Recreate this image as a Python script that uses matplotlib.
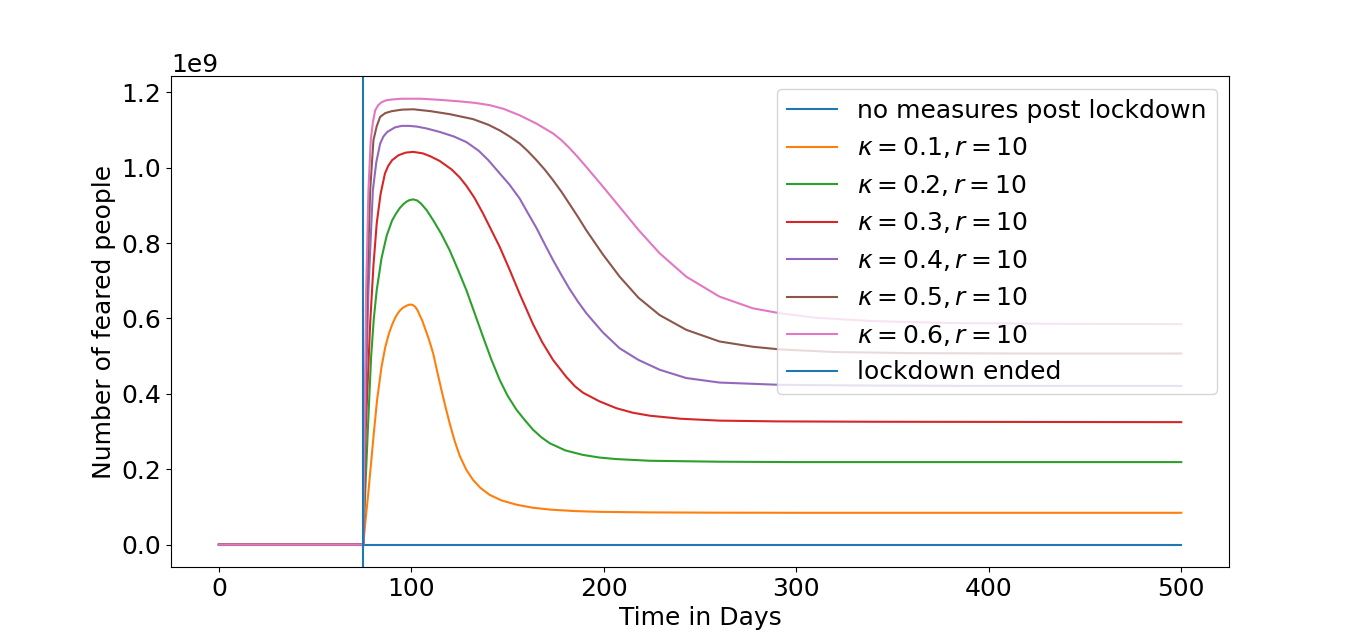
import matplotlib
matplotlib.use("Agg")
import matplotlib.pyplot as plt
import numpy as np

SCALE = 1e9  # values below are in units of 1e9 people
LOCKDOWN_END = 75

t_none = [0, 75, 500]
y_none = [0, 0, 0]

t_k1 = [0, 75, 76.3, 77.5, 78.9, 80.5, 82.2, 84.5, 86.5, 88.4, 90.2, 91.9, 93.7, 95.5, 97.5,
        99.2, 100.7, 102, 103.3, 104.4, 105.7, 107, 109.1, 111.3, 113.4, 115.6, 117.8, 119.9,
        122.5, 125.1, 128.5, 132, 136, 140.7, 147, 154.6, 163, 172, 185, 198, 224,
        260, 300, 500]
y_k1 = [0, 0, 0.07, 0.13, 0.207, 0.296, 0.384, 0.472, 0.525, 0.561, 0.586, 0.605, 0.619,
        0.628, 0.634, 0.637, 0.636, 0.631, 0.621, 0.608, 0.594, 0.575, 0.545, 0.508, 0.46,
        0.411, 0.364, 0.322, 0.275, 0.236, 0.199, 0.172, 0.150, 0.132, 0.117, 0.106, 0.098,
        0.093, 0.089, 0.087, 0.0855, 0.0848, 0.0845, 0.0845]

t_k2 = [0, 75, 76.2, 77.4, 79.1, 80.5, 82.0, 84.5, 87.2, 90, 92, 94, 96, 97.5, 99, 101, 103,
        105, 108, 111.3, 115.5, 119.9, 124, 128.6, 132.8, 137.2, 141.5, 145.9, 150, 154.6,
        159, 163.2, 167.5, 171.9, 180, 189.2, 197.8, 206.5, 224, 260, 300, 500]
y_k2 = [0, 0, 0.16, 0.305, 0.499, 0.60, 0.675, 0.76, 0.82, 0.86, 0.878, 0.893, 0.904, 0.910,
        0.914, 0.916, 0.913, 0.905, 0.887, 0.861, 0.825, 0.781, 0.732, 0.675, 0.615, 0.552,
        0.492, 0.437, 0.395, 0.358, 0.33, 0.305, 0.285, 0.269, 0.25, 0.238, 0.231, 0.227,
        0.2225, 0.22, 0.219, 0.219]

t_k3 = [0, 75, 76.3, 78.6, 80.3, 82.0, 84.0, 86.3, 88, 90, 93.3, 97, 101, 106, 110, 114.7,
        121, 125, 128.6, 132.8, 137.2, 141.5, 145.9, 151, 156.3, 163.2, 168, 173.6, 180.5,
        185, 189.2, 197.8, 206.5, 215, 224, 240, 260, 290, 340, 500]
y_k3 = [0, 0, 0.305, 0.587, 0.74, 0.852, 0.93, 0.985, 1.005, 1.02, 1.033, 1.040, 1.042,
        1.038, 1.030, 1.018, 0.995, 0.975, 0.952, 0.92, 0.879, 0.835, 0.79, 0.73, 0.665,
        0.585, 0.537, 0.49, 0.445, 0.42, 0.403, 0.38, 0.362, 0.35, 0.342, 0.334, 0.329,
        0.327, 0.326, 0.325]

t_k4 = [0, 75, 75.9, 77.7, 80.0, 81.8, 83.8, 85.5, 87.5, 91.5, 95, 99, 103, 108, 114.7, 122,
        128.6, 135, 140, 145.9, 151, 156.3, 160.5, 165, 169.3, 173.6, 178, 182, 186.5,
        190.9, 199.5, 208.2, 218, 229, 242.8, 260.1, 291.3, 340, 400, 500]
y_k4 = [0, 0, 0.305, 0.675, 0.940, 1.015, 1.064, 1.083, 1.095, 1.107, 1.111, 1.111, 1.109,
        1.104, 1.095, 1.083, 1.068, 1.045, 1.02, 0.985, 0.955, 0.918, 0.88, 0.84, 0.797,
        0.755, 0.715, 0.68, 0.645, 0.614, 0.563, 0.521, 0.49, 0.464, 0.442, 0.430, 0.424,
        0.422, 0.421, 0.421]

t_k5 = [0, 75, 77.0, 78.6, 80.3, 82.0, 83.8, 86.5, 89.8, 95, 101, 110, 120, 132, 140, 145.9,
        151, 156.3, 160.5, 165, 169.3, 173.6, 178, 182, 186.5, 190.9, 199.5, 208.2, 218, 229,
        242.8, 260.1, 277.4, 291.3, 320, 360, 420, 500]
y_k5 = [0, 0, 0.675, 0.940, 1.073, 1.11, 1.135, 1.145, 1.150, 1.154, 1.155, 1.150, 1.142,
        1.129, 1.114, 1.099, 1.083, 1.064, 1.044, 1.02, 0.995, 0.967, 0.936, 0.905, 0.87,
        0.834, 0.77, 0.711, 0.655, 0.609, 0.57, 0.539, 0.525, 0.518, 0.511, 0.508, 0.507,
        0.507]

t_k6 = [0, 75, 76.5, 77.7, 78.9, 80.0, 81.2, 82.8, 84.6, 87, 89.8, 95, 105, 115, 125, 133,
        140.7, 148, 156.3, 165, 173.6, 178, 182, 186.5, 190.9, 199.5, 208.2, 218, 229, 242.8,
        260.1, 277.4, 291.3, 310, 340, 380, 430, 500]
y_k6 = [0, 0, 0.675, 0.940, 1.073, 1.12, 1.152, 1.166, 1.174, 1.179, 1.181, 1.183, 1.183,
        1.180, 1.176, 1.172, 1.166, 1.156, 1.139, 1.117, 1.091, 1.073, 1.053, 1.028, 1.002,
        0.950, 0.896, 0.835, 0.773, 0.711, 0.658, 0.627, 0.614, 0.602, 0.593, 0.588, 0.586,
        0.585]

labels = ["no measures post lockdown",
          r"$\kappa = 0.1, r = 10$",
          r"$\kappa = 0.2, r = 10$",
          r"$\kappa = 0.3, r = 10$",
          r"$\kappa = 0.4, r = 10$",
          r"$\kappa = 0.5, r = 10$",
          r"$\kappa = 0.6, r = 10$"]

series = [(t_none, y_none), (t_k1, y_k1), (t_k2, y_k2), (t_k3, y_k3),
          (t_k4, y_k4), (t_k5, y_k5), (t_k6, y_k6)]

plt.rcParams['font.size'] = 18
fig = plt.figure(figsize=(13.66, 6.37), dpi=100)
ax = fig.add_subplot(111)

for (t, y), lab in zip(series, labels):
    ax.plot(t, np.array(y) * SCALE, label=lab)

ax.axvline(LOCKDOWN_END, label="lockdown ended")

ax.set_xlabel("Time in Days")
ax.set_ylabel("Number of feared people")
ax.legend(loc="upper right")

fig.savefig("out.png", dpi=100)
